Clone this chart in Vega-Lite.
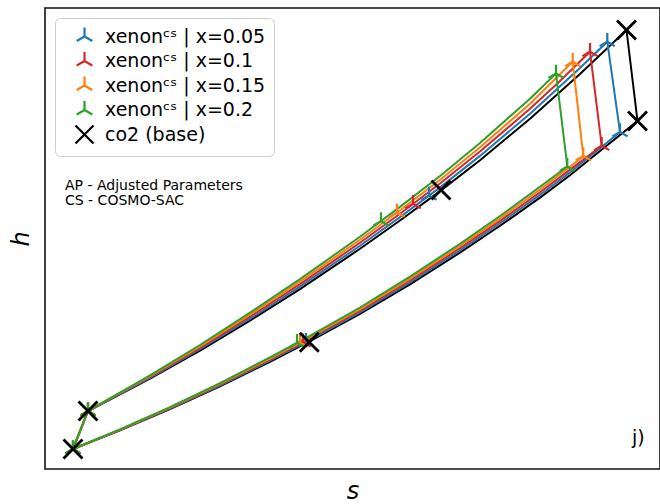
{
  "$schema": "https://vega.github.io/schema/vega-lite/v6.json",
  "width": 615,
  "height": 461,
  "autosize": {"type": "none"},
  "padding": {"left": 45, "top": 8, "right": 0, "bottom": 35},
  "background": "white",
  "config": {
    "view": {"stroke": "#111111", "strokeWidth": 1.6},
    "font": "DejaVu Sans"
  },
  "datasets": {
    "lines": [
      {"series": "co2 (base)", "i": 0, "s": 28, "h": 20},
      {"series": "co2 (base)", "i": 1, "s": 43, "h": 58},
      {"series": "co2 (base)", "i": 2, "s": 105, "h": 90.4},
      {"series": "co2 (base)", "i": 3, "s": 155, "h": 118.4},
      {"series": "co2 (base)", "i": 4, "s": 205, "h": 148.3},
      {"series": "co2 (base)", "i": 5, "s": 255, "h": 179.9},
      {"series": "co2 (base)", "i": 6, "s": 315, "h": 220.2},
      {"series": "co2 (base)", "i": 7, "s": 355, "h": 248.5},
      {"series": "co2 (base)", "i": 8, "s": 396, "h": 278.6},
      {"series": "co2 (base)", "i": 9, "s": 435, "h": 308.8},
      {"series": "co2 (base)", "i": 10, "s": 485, "h": 350.3},
      {"series": "co2 (base)", "i": 11, "s": 535, "h": 394.9},
      {"series": "co2 (base)", "i": 12, "s": 581.5, "h": 439},
      {"series": "co2 (base)", "i": 13, "s": 592.5, "h": 348},
      {"series": "co2 (base)", "i": 14, "s": 555, "h": 318},
      {"series": "co2 (base)", "i": 15, "s": 525, "h": 293.8},
      {"series": "co2 (base)", "i": 16, "s": 495, "h": 271.4},
      {"series": "co2 (base)", "i": 17, "s": 455, "h": 243.2},
      {"series": "co2 (base)", "i": 18, "s": 415, "h": 216.4},
      {"series": "co2 (base)", "i": 19, "s": 365, "h": 184.7},
      {"series": "co2 (base)", "i": 20, "s": 315, "h": 155.1},
      {"series": "co2 (base)", "i": 21, "s": 264, "h": 127.4},
      {"series": "co2 (base)", "i": 22, "s": 225, "h": 107.2},
      {"series": "co2 (base)", "i": 23, "s": 175, "h": 82.7},
      {"series": "co2 (base)", "i": 24, "s": 125, "h": 59.8},
      {"series": "co2 (base)", "i": 25, "s": 75, "h": 38.6},
      {"series": "co2 (base)", "i": 26, "s": 28, "h": 20},

      {"series": "xenonᶜˢ | x=0.05", "i": 0, "s": 28, "h": 20},
      {"series": "xenonᶜˢ | x=0.05", "i": 1, "s": 43, "h": 58},
      {"series": "xenonᶜˢ | x=0.05", "i": 2, "s": 105, "h": 91.2},
      {"series": "xenonᶜˢ | x=0.05", "i": 3, "s": 155, "h": 119.8},
      {"series": "xenonᶜˢ | x=0.05", "i": 4, "s": 205, "h": 150.3},
      {"series": "xenonᶜˢ | x=0.05", "i": 5, "s": 255, "h": 182.4},
      {"series": "xenonᶜˢ | x=0.05", "i": 6, "s": 315, "h": 223.2},
      {"series": "xenonᶜˢ | x=0.05", "i": 7, "s": 355, "h": 251.9},
      {"series": "xenonᶜˢ | x=0.05", "i": 8, "s": 396, "h": 282.4},
      {"series": "xenonᶜˢ | x=0.05", "i": 9, "s": 435, "h": 313.1},
      {"series": "xenonᶜˢ | x=0.05", "i": 10, "s": 485, "h": 355.3},
      {"series": "xenonᶜˢ | x=0.05", "i": 11, "s": 535, "h": 401.1},
      {"series": "xenonᶜˢ | x=0.05", "i": 12, "s": 562.3, "h": 427.3},
      {"series": "xenonᶜˢ | x=0.05", "i": 13, "s": 575, "h": 337},
      {"series": "xenonᶜˢ | x=0.05", "i": 14, "s": 555, "h": 320.7},
      {"series": "xenonᶜˢ | x=0.05", "i": 15, "s": 525, "h": 296.6},
      {"series": "xenonᶜˢ | x=0.05", "i": 16, "s": 495, "h": 274.1},
      {"series": "xenonᶜˢ | x=0.05", "i": 17, "s": 455, "h": 245.7},
      {"series": "xenonᶜˢ | x=0.05", "i": 18, "s": 415, "h": 218.6},
      {"series": "xenonᶜˢ | x=0.05", "i": 19, "s": 365, "h": 186.6},
      {"series": "xenonᶜˢ | x=0.05", "i": 20, "s": 315, "h": 156.7},
      {"series": "xenonᶜˢ | x=0.05", "i": 21, "s": 264, "h": 128.7},
      {"series": "xenonᶜˢ | x=0.05", "i": 22, "s": 225, "h": 108.3},
      {"series": "xenonᶜˢ | x=0.05", "i": 23, "s": 175, "h": 83.5},
      {"series": "xenonᶜˢ | x=0.05", "i": 24, "s": 125, "h": 60.3},
      {"series": "xenonᶜˢ | x=0.05", "i": 25, "s": 75, "h": 38.9},
      {"series": "xenonᶜˢ | x=0.05", "i": 26, "s": 28, "h": 20},

      {"series": "xenonᶜˢ | x=0.1", "i": 0, "s": 28, "h": 20},
      {"series": "xenonᶜˢ | x=0.1", "i": 1, "s": 43, "h": 58},
      {"series": "xenonᶜˢ | x=0.1", "i": 2, "s": 105, "h": 92},
      {"series": "xenonᶜˢ | x=0.1", "i": 3, "s": 155, "h": 121.2},
      {"series": "xenonᶜˢ | x=0.1", "i": 4, "s": 205, "h": 152.3},
      {"series": "xenonᶜˢ | x=0.1", "i": 5, "s": 255, "h": 184.9},
      {"series": "xenonᶜˢ | x=0.1", "i": 6, "s": 315, "h": 226.2},
      {"series": "xenonᶜˢ | x=0.1", "i": 7, "s": 355, "h": 255.3},
      {"series": "xenonᶜˢ | x=0.1", "i": 8, "s": 396, "h": 286.2},
      {"series": "xenonᶜˢ | x=0.1", "i": 9, "s": 435, "h": 317.4},
      {"series": "xenonᶜˢ | x=0.1", "i": 10, "s": 485, "h": 360.3},
      {"series": "xenonᶜˢ | x=0.1", "i": 11, "s": 515, "h": 388},
      {"series": "xenonᶜˢ | x=0.1", "i": 12, "s": 545, "h": 417.3},
      {"series": "xenonᶜˢ | x=0.1", "i": 13, "s": 556.7, "h": 323.3},
      {"series": "xenonᶜˢ | x=0.1", "i": 14, "s": 525, "h": 299.4},
      {"series": "xenonᶜˢ | x=0.1", "i": 15, "s": 495, "h": 276.8},
      {"series": "xenonᶜˢ | x=0.1", "i": 16, "s": 455, "h": 248.1},
      {"series": "xenonᶜˢ | x=0.1", "i": 17, "s": 415, "h": 220.8},
      {"series": "xenonᶜˢ | x=0.1", "i": 18, "s": 365, "h": 188.5},
      {"series": "xenonᶜˢ | x=0.1", "i": 19, "s": 315, "h": 158.3},
      {"series": "xenonᶜˢ | x=0.1", "i": 20, "s": 264, "h": 130},
      {"series": "xenonᶜˢ | x=0.1", "i": 21, "s": 225, "h": 109.4},
      {"series": "xenonᶜˢ | x=0.1", "i": 22, "s": 175, "h": 84.3},
      {"series": "xenonᶜˢ | x=0.1", "i": 23, "s": 125, "h": 60.8},
      {"series": "xenonᶜˢ | x=0.1", "i": 24, "s": 75, "h": 39.1},
      {"series": "xenonᶜˢ | x=0.1", "i": 25, "s": 28, "h": 20},

      {"series": "xenonᶜˢ | x=0.15", "i": 0, "s": 28, "h": 20},
      {"series": "xenonᶜˢ | x=0.15", "i": 1, "s": 43, "h": 58},
      {"series": "xenonᶜˢ | x=0.15", "i": 2, "s": 105, "h": 92.8},
      {"series": "xenonᶜˢ | x=0.15", "i": 3, "s": 155, "h": 122.6},
      {"series": "xenonᶜˢ | x=0.15", "i": 4, "s": 205, "h": 154.3},
      {"series": "xenonᶜˢ | x=0.15", "i": 5, "s": 255, "h": 187.4},
      {"series": "xenonᶜˢ | x=0.15", "i": 6, "s": 315, "h": 229.2},
      {"series": "xenonᶜˢ | x=0.15", "i": 7, "s": 355, "h": 258.7},
      {"series": "xenonᶜˢ | x=0.15", "i": 8, "s": 396, "h": 290},
      {"series": "xenonᶜˢ | x=0.15", "i": 9, "s": 435, "h": 321.7},
      {"series": "xenonᶜˢ | x=0.15", "i": 10, "s": 485, "h": 365.3},
      {"series": "xenonᶜˢ | x=0.15", "i": 11, "s": 527.7, "h": 407.3},
      {"series": "xenonᶜˢ | x=0.15", "i": 12, "s": 538.3, "h": 313},
      {"series": "xenonᶜˢ | x=0.15", "i": 13, "s": 525, "h": 302.2},
      {"series": "xenonᶜˢ | x=0.15", "i": 14, "s": 495, "h": 279.5},
      {"series": "xenonᶜˢ | x=0.15", "i": 15, "s": 455, "h": 250.6},
      {"series": "xenonᶜˢ | x=0.15", "i": 16, "s": 415, "h": 223},
      {"series": "xenonᶜˢ | x=0.15", "i": 17, "s": 365, "h": 190.4},
      {"series": "xenonᶜˢ | x=0.15", "i": 18, "s": 315, "h": 159.9},
      {"series": "xenonᶜˢ | x=0.15", "i": 19, "s": 264, "h": 131.3},
      {"series": "xenonᶜˢ | x=0.15", "i": 20, "s": 225, "h": 110.5},
      {"series": "xenonᶜˢ | x=0.15", "i": 21, "s": 175, "h": 85.1},
      {"series": "xenonᶜˢ | x=0.15", "i": 22, "s": 125, "h": 61.3},
      {"series": "xenonᶜˢ | x=0.15", "i": 23, "s": 75, "h": 39.4},
      {"series": "xenonᶜˢ | x=0.15", "i": 24, "s": 28, "h": 20},

      {"series": "xenonᶜˢ | x=0.2", "i": 0, "s": 28, "h": 20},
      {"series": "xenonᶜˢ | x=0.2", "i": 1, "s": 43, "h": 58},
      {"series": "xenonᶜˢ | x=0.2", "i": 2, "s": 105, "h": 93.6},
      {"series": "xenonᶜˢ | x=0.2", "i": 3, "s": 155, "h": 124},
      {"series": "xenonᶜˢ | x=0.2", "i": 4, "s": 205, "h": 156.3},
      {"series": "xenonᶜˢ | x=0.2", "i": 5, "s": 255, "h": 189.9},
      {"series": "xenonᶜˢ | x=0.2", "i": 6, "s": 315, "h": 232.2},
      {"series": "xenonᶜˢ | x=0.2", "i": 7, "s": 355, "h": 262.1},
      {"series": "xenonᶜˢ | x=0.2", "i": 8, "s": 396, "h": 293.8},
      {"series": "xenonᶜˢ | x=0.2", "i": 9, "s": 435, "h": 326},
      {"series": "xenonᶜˢ | x=0.2", "i": 10, "s": 485, "h": 370.3},
      {"series": "xenonᶜˢ | x=0.2", "i": 11, "s": 511, "h": 395.5},
      {"series": "xenonᶜˢ | x=0.2", "i": 12, "s": 522.3, "h": 302.5},
      {"series": "xenonᶜˢ | x=0.2", "i": 13, "s": 495, "h": 282.2},
      {"series": "xenonᶜˢ | x=0.2", "i": 14, "s": 455, "h": 253},
      {"series": "xenonᶜˢ | x=0.2", "i": 15, "s": 415, "h": 225.2},
      {"series": "xenonᶜˢ | x=0.2", "i": 16, "s": 365, "h": 192.3},
      {"series": "xenonᶜˢ | x=0.2", "i": 17, "s": 315, "h": 161.5},
      {"series": "xenonᶜˢ | x=0.2", "i": 18, "s": 264, "h": 132.6},
      {"series": "xenonᶜˢ | x=0.2", "i": 19, "s": 225, "h": 111.6},
      {"series": "xenonᶜˢ | x=0.2", "i": 20, "s": 175, "h": 85.9},
      {"series": "xenonᶜˢ | x=0.2", "i": 21, "s": 125, "h": 61.8},
      {"series": "xenonᶜˢ | x=0.2", "i": 22, "s": 75, "h": 39.6},
      {"series": "xenonᶜˢ | x=0.2", "i": 23, "s": 28, "h": 20}
    ],
    "xenonPoints": [
      {"series": "xenonᶜˢ | x=0.05", "s": 28, "h": 20},
      {"series": "xenonᶜˢ | x=0.05", "s": 43, "h": 58},
      {"series": "xenonᶜˢ | x=0.05", "s": 384, "h": 273.5},
      {"series": "xenonᶜˢ | x=0.05", "s": 562.3, "h": 427.3},
      {"series": "xenonᶜˢ | x=0.05", "s": 575, "h": 337},
      {"series": "xenonᶜˢ | x=0.05", "s": 261, "h": 127.1},
      {"series": "xenonᶜˢ | x=0.1", "s": 28, "h": 20},
      {"series": "xenonᶜˢ | x=0.1", "s": 43, "h": 58},
      {"series": "xenonᶜˢ | x=0.1", "s": 368, "h": 265.1},
      {"series": "xenonᶜˢ | x=0.1", "s": 545, "h": 417.3},
      {"series": "xenonᶜˢ | x=0.1", "s": 556.7, "h": 323.3},
      {"series": "xenonᶜˢ | x=0.1", "s": 258, "h": 126.8},
      {"series": "xenonᶜˢ | x=0.15", "s": 28, "h": 20},
      {"series": "xenonᶜˢ | x=0.15", "s": 43, "h": 58},
      {"series": "xenonᶜˢ | x=0.15", "s": 352, "h": 256.5},
      {"series": "xenonᶜˢ | x=0.15", "s": 527.7, "h": 407.3},
      {"series": "xenonᶜˢ | x=0.15", "s": 538.3, "h": 313},
      {"series": "xenonᶜˢ | x=0.15", "s": 255, "h": 126.5},
      {"series": "xenonᶜˢ | x=0.2", "s": 28, "h": 20},
      {"series": "xenonᶜˢ | x=0.2", "s": 43, "h": 58},
      {"series": "xenonᶜˢ | x=0.2", "s": 336, "h": 247.9},
      {"series": "xenonᶜˢ | x=0.2", "s": 511, "h": 395.5},
      {"series": "xenonᶜˢ | x=0.2", "s": 522.3, "h": 302.5},
      {"series": "xenonᶜˢ | x=0.2", "s": 252, "h": 126.1}
    ],
    "basePoints": [
      {"series": "co2 (base)", "s": 28, "h": 20},
      {"series": "co2 (base)", "s": 43, "h": 58},
      {"series": "co2 (base)", "s": 396, "h": 279},
      {"series": "co2 (base)", "s": 581.5, "h": 439},
      {"series": "co2 (base)", "s": 592.5, "h": 348},
      {"series": "co2 (base)", "s": 264.3, "h": 126.7}
    ],
    "notes": [
      {"label": "AP - Adjusted Parameters", "s": 20, "h": 279},
      {"label": "CS - COSMO-SAC", "s": 20, "h": 264}
    ],
    "panel": [
      {"label": "j)", "s": 587, "h": 25}
    ]
  },
  "encoding": {
    "x": {
      "field": "s", "type": "quantitative",
      "scale": {"domain": [0, 615], "nice": false, "zero": false},
      "axis": {"title": "s", "labels": false, "ticks": false, "domain": false, "grid": false,
               "titleFont": "DejaVu Sans", "titleFontSize": 24, "titleFontStyle": "italic",
               "titleFontWeight": "normal", "titleColor": "black", "titlePadding": 10}
    },
    "y": {
      "field": "h", "type": "quantitative",
      "scale": {"domain": [0, 461], "nice": false, "zero": false},
      "axis": {"title": "h", "labels": false, "ticks": false, "domain": false, "grid": false,
               "titleFont": "DejaVu Sans", "titleFontSize": 24, "titleFontStyle": "italic",
               "titleFontWeight": "normal", "titleColor": "black", "titlePadding": 12}
    }
  },
  "layer": [
    {
      "data": {"name": "lines"},
      "mark": {"type": "line", "strokeWidth": 2, "clip": true},
      "encoding": {
        "order": {"field": "i", "type": "quantitative"},
        "detail": {"field": "series", "type": "nominal"},
        "stroke": {
          "field": "series", "type": "nominal",
          "scale": {
            "range": ["#000000", "#1f77b4", "#d62728", "#ff7f0e", "#2ca02c"]
          },
          "legend": null
        }
      }
    },
    {
      "data": {"name": "xenonPoints"},
      "mark": {"type": "point", "filled": false, "opacity": 1, "strokeWidth": 2.2, "size": 310},
      "encoding": {
        "color": {
          "field": "series", "type": "nominal",
          "scale": {
            "domain": ["xenonᶜˢ | x=0.05", "xenonᶜˢ | x=0.1", "xenonᶜˢ | x=0.15", "xenonᶜˢ | x=0.2", "co2 (base)"],
            "range": ["#1f77b4", "#d62728", "#ff7f0e", "#2ca02c", "#000000"]
          },
          "legend": {
            "title": null,
            "orient": "top-left",
            "offset": 10,
            "padding": 8,
            "fillColor": "rgba(255,255,255,0.8)",
            "strokeColor": "#cccccc",
            "cornerRadius": 5,
            "labelFont": "DejaVu Sans",
            "labelFontSize": 19,
            "labelColor": "black",
            "labelLimit": 400,
            "symbolSize": 324,
            "symbolStrokeWidth": 2.2,
            "symbolOffset": 11,
            "labelOffset": 10,
            "rowPadding": 0.5
          }
        },
        "shape": {
          "field": "series", "type": "nominal",
          "scale": {
            "domain": ["xenonᶜˢ | x=0.05", "xenonᶜˢ | x=0.1", "xenonᶜˢ | x=0.15", "xenonᶜˢ | x=0.2", "co2 (base)"],
            "range": [
              "M0,0L0,-1M0,0L-0.866,0.5M0,0L0.866,0.5",
              "M0,0L0,-1M0,0L-0.866,0.5M0,0L0.866,0.5",
              "M0,0L0,-1M0,0L-0.866,0.5M0,0L0.866,0.5",
              "M0,0L0,-1M0,0L-0.866,0.5M0,0L0.866,0.5",
              "M-1,-1L1,1M-1,1L1,-1"
            ]
          }
        }
      }
    },
    {
      "data": {"name": "basePoints"},
      "mark": {"type": "point", "filled": false, "opacity": 1, "strokeWidth": 2.8, "size": 360},
      "encoding": {
        "color": {"field": "series", "type": "nominal"},
        "shape": {"field": "series", "type": "nominal"}
      }
    },
    {
      "data": {"name": "notes"},
      "mark": {"type": "text", "align": "left", "baseline": "alphabetic", "font": "DejaVu Sans", "fontSize": 14, "color": "black"},
      "encoding": {"text": {"field": "label"}}
    },
    {
      "data": {"name": "panel"},
      "mark": {"type": "text", "align": "left", "baseline": "alphabetic", "font": "DejaVu Sans", "fontSize": 19, "color": "black"},
      "encoding": {"text": {"field": "label"}}
    }
  ]
}
